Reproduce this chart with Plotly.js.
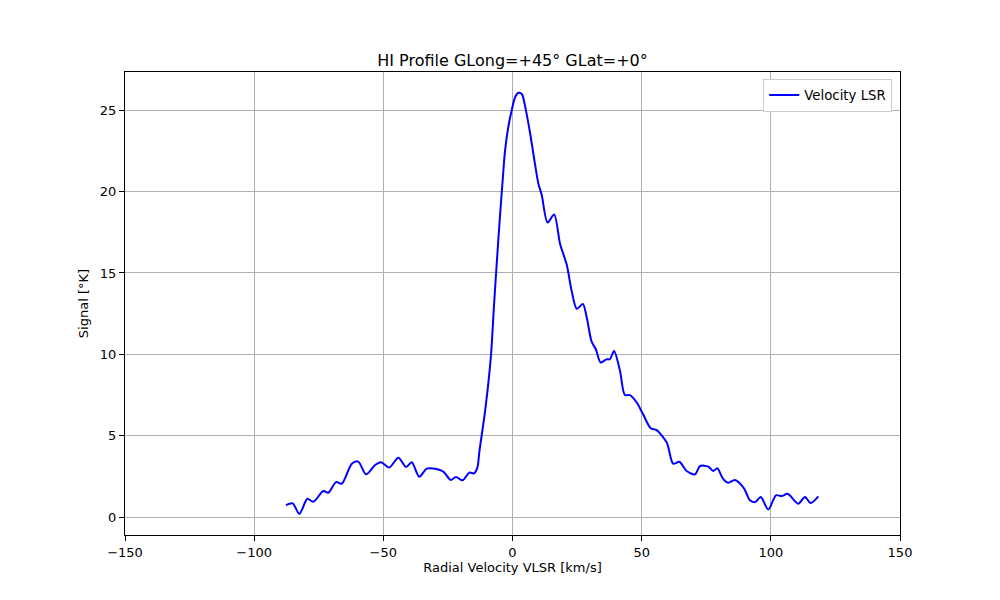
<!DOCTYPE html>
<html>
<head>
<meta charset="utf-8">
<script src="https://cdn.plot.ly/plotly-3.0.1.min.js"></script>
<style>
  body { margin: 0; background: #ffffff; }
  #chart { width: 1000px; height: 600px; }
</style>
</head>
<body>
<div id="chart"></div>
<script>
// HI profile
const velocity = [
  -87.7, -85.1, -82.5, -79.4, -77.1, -73.2, -71.3, -68.3, -66.1, -62.2,
  -59.7, -56.7, -53.2, -50.9, -47.7, -44.2, -41.2, -39.0, -36.1, -33.2,
  -30.7, -26.8, -23.9, -21.9, -19.3, -16.7, -14.9, -13.6, -12.8, -10.6,
  -8.4, -7.2, -6.1, -4.8, -3.8, -2.9, -1.6, -0.3, 1.0, 2.3,
  3.6, 4.8, 6.8, 8.7, 10.0, 11.3, 13.6, 16.1, 18.4, 21.0,
  22.9, 24.9, 27.2, 28.7, 30.6, 32.3, 34.1, 36.5, 37.7, 39.3,
  41.6, 43.5, 45.5, 48.1, 50.6, 53.5, 55.8, 59.7, 62.2, 64.6,
  67.4, 70.7, 72.6, 75.8, 77.7, 79.3, 81.4, 83.5, 86.1, 89.6,
  91.9, 93.9, 96.1, 99.0, 102.0, 104.2, 106.5, 110.6, 113.2, 115.4,
  118.4
];
const signal = [
  0.74, 0.84, 0.20, 1.13, 0.94, 1.60, 1.50, 2.15, 2.05, 3.28,
  3.41, 2.63, 3.20, 3.37, 3.04, 3.65, 3.08, 3.37, 2.48, 2.98,
  2.98, 2.79, 2.28, 2.46, 2.26, 2.73, 2.69, 3.04, 4.06, 6.53,
  9.8, 12.9, 15.6, 18.6, 20.7, 22.5, 24.0, 25.0, 25.8, 26.07,
  26.0, 25.3, 23.6, 21.7, 20.5, 19.8, 18.1, 18.6, 16.8, 15.5,
  13.9, 12.8, 13.1, 12.3, 10.8, 10.3, 9.5, 9.7, 9.7, 10.2,
  9.0, 7.5, 7.5, 7.04, 6.3, 5.46, 5.34, 4.58, 3.28, 3.40,
  2.83, 2.63, 3.14, 3.10, 2.83, 3.00, 2.38, 2.11, 2.28, 1.77,
  1.03, 0.92, 1.23, 0.47, 1.34, 1.29, 1.43, 0.82, 1.23, 0.86,
  1.27
];
const xTicks = [-150, -100, -50, 0, 50, 100, 150];
const yTicks = [0, 5, 10, 15, 20, 25];

const font = 'DejaVu Sans, sans-serif';

const profile = {
  x: velocity,
  y: signal,
  type: 'scatter',
  mode: 'lines',
  name: 'Velocity LSR',
  line: { color: '#0000ff', width: 2, shape: 'spline', smoothing: 0.8 }
};

const axisStyle = {
  showline: true,
  linecolor: '#000000',
  linewidth: 1,
  mirror: true,
  ticks: 'outside',
  ticklen: 5,
  tickcolor: '#000000',
  showgrid: true,
  gridcolor: '#b0b0b0',
  gridwidth: 1,
  zeroline: false,
  tickfont: { family: font, size: 13, color: '#000000' }
};

Plotly.newPlot('chart', [profile], {
  width: 1000,
  height: 600,
  paper_bgcolor: '#ffffff',
  plot_bgcolor: '#ffffff',
  margin: { l: 125, r: 100, t: 72, b: 65 },
  showlegend: true,
  title: {
    text: 'HI Profile GLong=+45° GLat=+0°',
    font: { family: font, size: 16, color: '#000000' },
    x: 0.5125, xanchor: 'center',
    y: 0.89, yanchor: 'bottom'
  },
  xaxis: Object.assign({}, axisStyle, {
    range: [-150, 150],
    tickvals: xTicks,
    ticktext: xTicks.map(v => v < 0 ? '\u2212' + Math.abs(v) : String(v)),
    title: { text: 'Radial Velocity VLSR [km/s]', font: { family: font, size: 13, color: '#000000' }, standoff: 4 }
  }),
  yaxis: Object.assign({}, axisStyle, {
    range: [-1.1, 27.35],
    tickvals: yTicks,
    title: { text: 'Signal [°K]', font: { family: font, size: 13, color: '#000000' }, standoff: 8 }
  }),
  legend: {
    x: 0.99, xanchor: 'right',
    y: 0.985, yanchor: 'top',
    bgcolor: '#ffffff',
    bordercolor: '#cccccc',
    borderwidth: 1,
    font: { family: font, size: 13.3, color: '#000000' }
  }
}, { displayModeBar: false });
</script>
</body>
</html>
